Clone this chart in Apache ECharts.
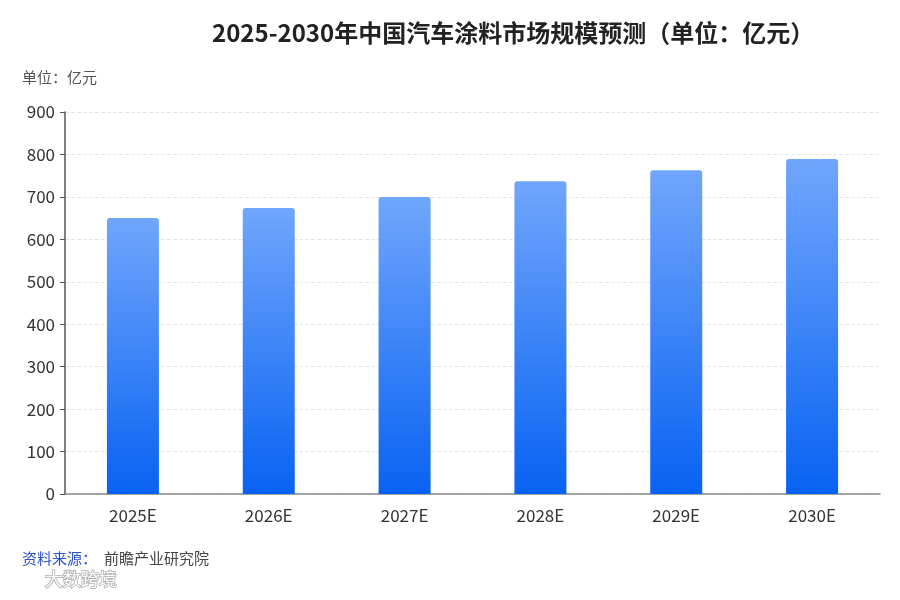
<!DOCTYPE html>
<html>
<head>
<meta charset="utf-8">
<script src="https://cdn.jsdelivr.net/npm/echarts@6/dist/echarts.min.js"></script>
<style>
html, body { margin: 0; padding: 0; background: #fff; }
#main { width: 900px; height: 600px; }
</style>
</head>
<body>
<div id="main"></div>
<script>
var years = ['2025E', '2026E', '2027E', '2028E', '2029E', '2030E'];
var marketSize = [650, 674, 700, 737, 763, 789];
var yTicks = [0, 900, 100];  // min, max, interval

var dom = document.getElementById('main');
var myChart = echarts.init(dom);
var font = '"Noto Sans CJK SC", "Noto Sans", sans-serif';

var option = {
    backgroundColor: '#fff',
    textStyle: { fontFamily: font },
    title: {
        text: '2025-2030年中国汽车涂料市场规模预测（单位：亿元）',
        left: 207,
        top: 16,
        textStyle: { fontSize: 24, fontWeight: 'bold', color: '#222', fontFamily: font }
    },
    graphic: [
        {
            type: 'text', left: 22, top: 70,
            style: { text: '单位：亿元', fontSize: 15, fill: '#555', fontFamily: font }
        },
        {
            type: 'text', left: 22, top: 551,
            style: { text: '资料来源：', fontSize: 15, fill: '#2b50c8', fontFamily: font }
        },
        {
            type: 'text', left: 104, top: 551,
            style: { text: '前瞻产业研究院', fontSize: 15, fill: '#444', fontFamily: font }
        },
        {
            type: 'text', left: 44, top: 569,
            style: { text: '大数跨境', fontSize: 18, fill: '#fff', stroke: '#aaa', lineWidth: 1.5, fontFamily: font }
        }
    ],
    grid: { left: 65, right: 20, top: 112, bottom: 106, containLabel: false },
    xAxis: {
        type: 'category',
        data: years,
        axisLine: { lineStyle: { color: '#888', width: 1.5 } },
        axisTick: { show: false },
        axisLabel: { color: '#333', fontSize: 17, margin: 13 }
    },
    yAxis: {
        type: 'value',
        min: yTicks[0],
        max: yTicks[1],
        interval: yTicks[2],
        axisLine: { show: true, lineStyle: { color: '#555', width: 1.5 } },
        axisTick: { show: true, length: 5, lineStyle: { color: '#555' } },
        axisLabel: { color: '#333', fontSize: 17, margin: 10 },
        splitLine: { lineStyle: { color: '#e6e6e6', type: 'dashed' } }
    },
    series: [
        {
            type: 'bar',
            data: marketSize,
            barWidth: 52,
            itemStyle: {
                borderRadius: [3, 3, 0, 0],
                color: new echarts.graphic.LinearGradient(0, 0, 0, 1, [
                    { offset: 0, color: '#70a6fc' },
                    { offset: 1, color: '#0862f2' }
                ])
            }
        }
    ]
};

if (option && typeof option === 'object') {
    myChart.setOption(option);
}
</script>
</body>
</html>
